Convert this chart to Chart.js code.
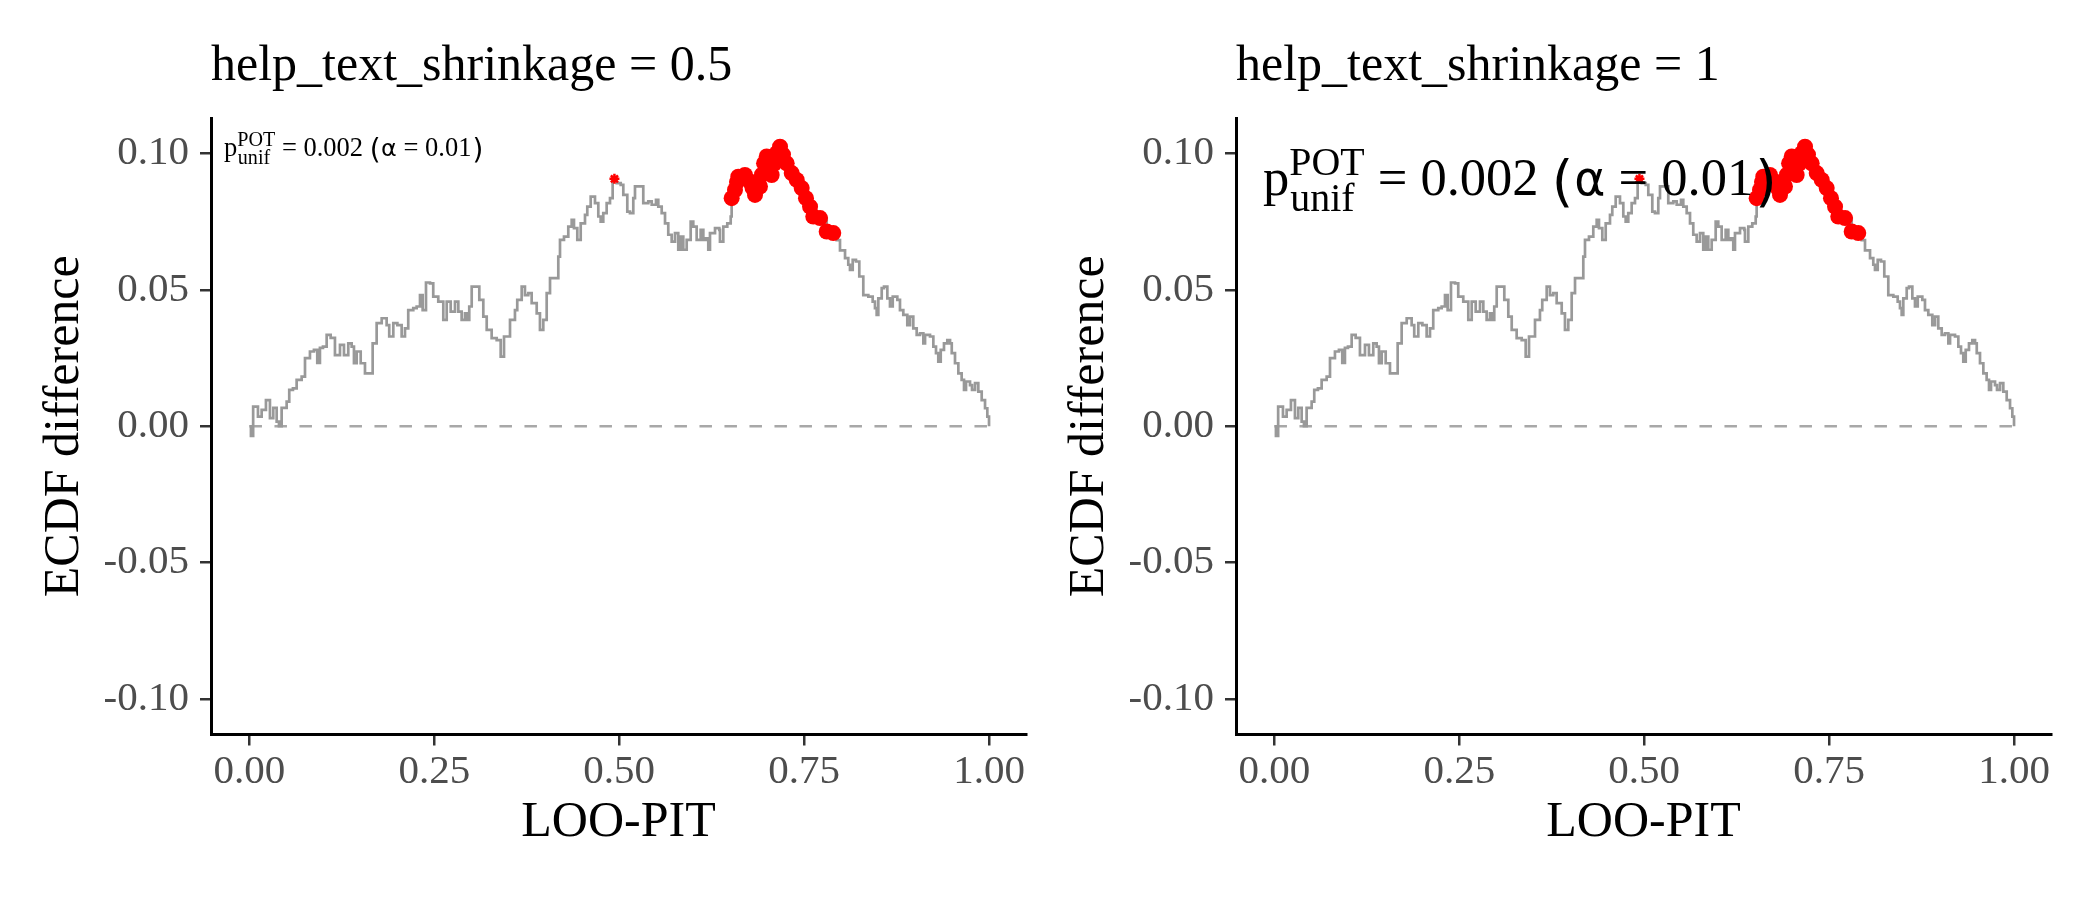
<!DOCTYPE html>
<html>
<head>
<meta charset="utf-8">
<script src="https://cdn.jsdelivr.net/npm/chart.js@4.4.0/dist/chart.umd.min.js"></script>
<style>
  body { margin: 0; background: #fff; width: 2100px; height: 900px; position: relative; overflow: hidden; }
  canvas { position: absolute; top: 0; }
  #leftPanel { left: 0; }
  #rightPanel { left: 1025px; }
</style>
</head>
<body>
<canvas id="leftPanel" width="1040" height="900"></canvas>
<canvas id="rightPanel" width="1040" height="900"></canvas>
<script>
// LOO-PIT grid and ECDF difference
const pit = [
  0.000, 0.002, 0.005, 0.0115, 0.0165, 0.0223, 0.0277, 0.0322, 0.0368, 0.0399,
  0.0435, 0.0503, 0.0538, 0.0588, 0.0638, 0.0706, 0.0751, 0.0818, 0.0872, 0.0917,
  0.0953, 0.0994, 0.1044, 0.1098, 0.1156, 0.1224, 0.1278, 0.1336, 0.1382, 0.1413,
  0.145, 0.1504, 0.1562, 0.162, 0.1666, 0.172, 0.1788, 0.1855, 0.189, 0.1945,
  0.2, 0.2058, 0.2103, 0.2147, 0.2215, 0.2261, 0.2306, 0.2342, 0.2387, 0.2441,
  0.2485, 0.2553, 0.2621, 0.2667, 0.2721, 0.2779, 0.2824, 0.2869, 0.2914, 0.2937,
  0.2972, 0.3005, 0.3049, 0.3108, 0.3162, 0.3208, 0.3275, 0.3343, 0.3397, 0.3442,
  0.35, 0.3523, 0.359, 0.3621, 0.3681, 0.3725, 0.377, 0.3816, 0.3884, 0.3928,
  0.3973, 0.4019, 0.4064, 0.4154, 0.4176, 0.4199, 0.4253, 0.4311, 0.4357, 0.4388,
  0.4433, 0.4479, 0.4537, 0.4568, 0.4614, 0.4672, 0.4717, 0.4749, 0.4784, 0.483,
  0.4875, 0.4911, 0.4966, 0.502, 0.5055, 0.5109, 0.5145, 0.519, 0.5213, 0.529,
  0.5325, 0.5393, 0.5439, 0.5497, 0.5528, 0.5574, 0.5619, 0.5663, 0.5709, 0.5754,
  0.5798, 0.5831, 0.5866, 0.5912, 0.5966, 0.6001, 0.6047, 0.6101, 0.6137, 0.6173,
  0.6204, 0.6227, 0.6295, 0.6353, 0.6362, 0.6407, 0.6461, 0.6507,
  0.652, 0.6565, 0.6592, 0.661, 0.670, 0.6768, 0.6802, 0.6836, 0.6903, 0.693,
  0.6958, 0.6994, 0.7025, 0.7061, 0.7093, 0.7129, 0.7174, 0.7214, 0.7264, 0.7332,
  0.74, 0.7467, 0.7525, 0.758, 0.7624, 0.7715, 0.7805, 0.7894,
  0.794, 0.7985, 0.8053, 0.8097, 0.812, 0.8157, 0.8201, 0.8246, 0.83, 0.8368,
  0.8427, 0.8458, 0.8481, 0.8503, 0.8549, 0.858, 0.8625, 0.8661, 0.8698, 0.876,
  0.8796, 0.8841, 0.8895, 0.8932, 0.8976, 0.9022, 0.9067, 0.9112, 0.9135, 0.9202,
  0.9247, 0.9283, 0.9314, 0.9347, 0.9391, 0.9436, 0.9473, 0.9496, 0.954, 0.9585,
  0.963, 0.9662, 0.9689, 0.9743, 0.977, 0.9811, 0.9855, 0.9901, 0.9946, 0.9977,
  1.0
];
const ecdfDiff = [
  0.000, -0.0035, 0.0072, 0.0035, 0.006, 0.0096, 0.003, 0.0067, 0.0017, 0.0,
  0.0067, 0.009, 0.0133, 0.0139, 0.017, 0.0182, 0.025, 0.0274, 0.028, 0.0232,
  0.0287, 0.0292, 0.0335, 0.0324, 0.0261, 0.0298, 0.0261, 0.0304, 0.0292, 0.0231,
  0.0274, 0.0231, 0.0194, 0.0194, 0.0304, 0.0378, 0.0396, 0.0371, 0.0329, 0.0378,
  0.0371, 0.0329, 0.0359, 0.0426, 0.0433, 0.0439, 0.0481, 0.0426, 0.0527, 0.0524,
  0.0475, 0.0457, 0.039, 0.0457, 0.042, 0.0457, 0.042, 0.039, 0.0414, 0.039,
  0.0439, 0.0512, 0.0512, 0.0463, 0.0402, 0.0353, 0.0323, 0.0316, 0.0255, 0.0329,
  0.0329, 0.039, 0.0426, 0.0463, 0.0512, 0.0481, 0.0488, 0.0451, 0.0414, 0.0353,
  0.039, 0.0488, 0.0543, 0.0543, 0.0622, 0.0683, 0.0695, 0.0732, 0.0757, 0.0726,
  0.0683, 0.0744, 0.0775, 0.0805, 0.0842, 0.0818, 0.0769, 0.075, 0.0781, 0.0818,
  0.0836, 0.0903, 0.0891, 0.0885, 0.0848, 0.0787, 0.0781, 0.0836, 0.0879, 0.0879,
  0.0818, 0.0824, 0.0812, 0.083, 0.0805, 0.0781, 0.0744, 0.0702, 0.0677, 0.0708,
  0.0647, 0.0695, 0.0647, 0.0683, 0.075, 0.0732, 0.0683, 0.072, 0.0683, 0.0689,
  0.0647, 0.0708, 0.0726, 0.072, 0.0677, 0.0732, 0.0744, 0.0769,
  0.0836, 0.0866, 0.0895, 0.0915, 0.0921, 0.0897, 0.0874, 0.0848, 0.0879, 0.0922,
  0.0964, 0.0989, 0.0954, 0.0921, 0.0962, 0.1001, 0.1025, 0.0996, 0.0964, 0.0928,
  0.0903, 0.0873, 0.0836, 0.0805, 0.0769, 0.0763, 0.0714, 0.0708,
  0.0682, 0.0645, 0.0616, 0.0592, 0.0573, 0.061, 0.0604, 0.0549, 0.0481, 0.0475,
  0.0457, 0.0433, 0.0408, 0.0469, 0.0506, 0.0512, 0.0469, 0.0439, 0.0475, 0.0463,
  0.0426, 0.0408, 0.0371, 0.0402, 0.0359, 0.0335, 0.0341, 0.0304, 0.0335, 0.0329,
  0.0292, 0.0268, 0.0237, 0.028, 0.0304, 0.0316, 0.0304, 0.0268, 0.0231, 0.0194,
  0.017, 0.0133, 0.0164, 0.0151, 0.0133, 0.0158, 0.0127, 0.0096, 0.0066, 0.0035,
  0.0
];

// highlighted points (red)
const redPit = [
  0.652, 0.6565, 0.6592, 0.661, 0.670, 0.6768, 0.6802, 0.6836, 0.6903, 0.693,
  0.6958, 0.6994, 0.7025, 0.7061, 0.7093, 0.7129, 0.7174, 0.7214, 0.7264, 0.7332,
  0.74, 0.7467, 0.7525, 0.758, 0.7624, 0.7715, 0.7805, 0.7894
];
const redDiff = [
  0.0836, 0.0866, 0.0895, 0.0915, 0.0921, 0.0897, 0.0874, 0.0848, 0.0879, 0.0922,
  0.0964, 0.0989, 0.0954, 0.0921, 0.0962, 0.1001, 0.1025, 0.0996, 0.0964, 0.0928,
  0.0903, 0.0873, 0.0836, 0.0805, 0.0769, 0.0763, 0.0714, 0.0708
];
const starPit = [0.4935];
const starDiff = [0.0907];

const refPit = [0, 1];
const refDiff = [0, 0];

const xTicks = [0, 0.25, 0.5, 0.75, 1];
const yTicks = [-0.10, -0.05, 0, 0.05, 0.10];

const shrinkage = ['0.5', '1'];
const pValue = '0.002';
const alphaLevel = '0.01';

const SERIF = "'Liberation Serif', 'DejaVu Serif', serif";
const SANS = "'DejaVu Sans', sans-serif";
Chart.defaults.font.family = SERIF;

function toPoints(xs, ys) {
  return xs.map((x, i) => ({ x: x, y: ys[i] }));
}

function drawNote(ctx, x, y, s) {
  ctx.save();
  ctx.fillStyle = '#000';
  ctx.textAlign = 'left';
  ctx.textBaseline = 'alphabetic';
  ctx.font = s + 'px ' + SERIF;
  ctx.fillText('p', x, y);
  x += ctx.measureText('p').width;
  ctx.font = (0.76 * s) + 'px ' + SERIF;
  ctx.fillText('POT', x, y - 0.38 * s);
  ctx.fillText('unif', x + 0.02 * s, y + 0.3 * s);
  x += Math.max(ctx.measureText('POT').width, ctx.measureText('unif').width + 0.02 * s);
  ctx.font = s + 'px ' + SERIF;
  let t = ' = ' + pValue + ' ';
  ctx.fillText(t, x, y);
  x += ctx.measureText(t).width;
  ctx.font = (1.05 * s) + 'px ' + SANS;
  ctx.fillText('(', x, y + 0.1 * s);
  x += ctx.measureText('(').width + 0.02 * s;
  ctx.font = (0.9 * s) + 'px ' + SANS;
  ctx.fillText('α', x, y);
  x += ctx.measureText('α').width;
  ctx.font = s + 'px ' + SERIF;
  t = ' = ' + alphaLevel;
  ctx.fillText(t, x, y);
  x += ctx.measureText(t).width + 0.04 * s;
  ctx.font = (1.05 * s) + 'px ' + SANS;
  ctx.fillText(')', x, y + 0.1 * s);
  ctx.restore();
}

const panelText = {
  id: 'panelText',
  afterDatasetsDraw(chart, args, opts) {
    const { ctx, chartArea } = chart;
    drawNote(ctx, chartArea.left + opts.noteDx, chartArea.top + opts.noteDy, opts.noteSize);
  },
  afterDraw(chart, args, opts) {
    const { ctx, chartArea } = chart;
    ctx.save();
    ctx.fillStyle = '#000';
    ctx.textAlign = 'left';
    ctx.textBaseline = 'alphabetic';
    ctx.font = '50px ' + SERIF;
    ctx.fillText(opts.title, chartArea.left, 80);
    ctx.restore();
  }
};

function makePanel(canvasId, label, noteSize, noteDx, noteDy) {
  return new Chart(document.getElementById(canvasId), {
    type: 'scatter',
    data: {
      datasets: [
        {
          data: toPoints(starPit, starDiff),
          pointStyle: 'star',
          pointRadius: 5,
          borderColor: '#FF0000',
          backgroundColor: '#FF0000',
          borderWidth: 2.5,
          order: 0
        },
        {
          data: toPoints(redPit, redDiff),
          pointRadius: 8,
          backgroundColor: '#FF0000',
          borderWidth: 0,
          order: 1
        },
        {
          data: toPoints(pit, ecdfDiff),
          showLine: true,
          stepped: 'before',
          borderColor: '#999999',
          borderWidth: 2.7,
          pointRadius: 0,
          order: 2
        },
        {
          data: toPoints(refPit, refDiff),
          showLine: true,
          borderColor: '#A8A8A8',
          borderWidth: 2.4,
          borderDash: [12.5, 12.5],
          pointRadius: 0,
          order: 3
        }
      ]
    },
    options: {
      responsive: false,
      animation: false,
      devicePixelRatio: 1,
      layout: { padding: { top: 118, right: 14, left: 0, bottom: 0 } },
      plugins: {
        legend: { display: false },
        tooltip: { enabled: false },
        panelText: { title: 'help_text_shrinkage = ' + label, noteSize: noteSize, noteDx: noteDx, noteDy: noteDy }
      },
      scales: {
        x: {
          type: 'linear',
          min: -0.052,
          max: 1.05,
          afterBuildTicks: (scale) => { scale.ticks = xTicks.map(v => ({ value: v })); },
          afterFit: (scale) => { scale.height = 165.5; },
          ticks: {
            color: '#4D4D4D',
            font: { size: 41 },
            padding: 2,
            maxRotation: 0,
            callback: (v) => Number(v).toFixed(2)
          },
          grid: { display: true, drawOnChartArea: false, drawTicks: true, tickLength: 11, color: '#333333', lineWidth: 2.5 },
          border: { display: true, color: '#000000', width: 3 },
          title: { display: true, text: 'LOO-PIT', color: '#000', font: { size: 50 }, padding: { top: 0, bottom: 47 } }
        },
        y: {
          type: 'linear',
          min: -0.113,
          max: 0.113,
          afterBuildTicks: (scale) => { scale.ticks = yTicks.map(v => ({ value: v })); },
          afterFit: (scale) => { scale.width = 211; },
          ticks: {
            color: '#4D4D4D',
            font: { size: 41 },
            padding: 11,
            callback: (v) => Number(v).toFixed(2)
          },
          grid: { display: true, drawOnChartArea: false, drawTicks: true, tickLength: 11, color: '#333333', lineWidth: 2.5 },
          border: { display: true, color: '#000000', width: 3 },
          title: { display: true, text: 'ECDF difference', color: '#000', font: { size: 50 }, padding: { top: 35, bottom: 0 } }
        }
      }
    },
    plugins: [panelText]
  });
}

makePanel('leftPanel', shrinkage[0], 26.5, 13, 38);
makePanel('rightPanel', shrinkage[1], 52.5, 27, 77);
</script>
</body>
</html>
